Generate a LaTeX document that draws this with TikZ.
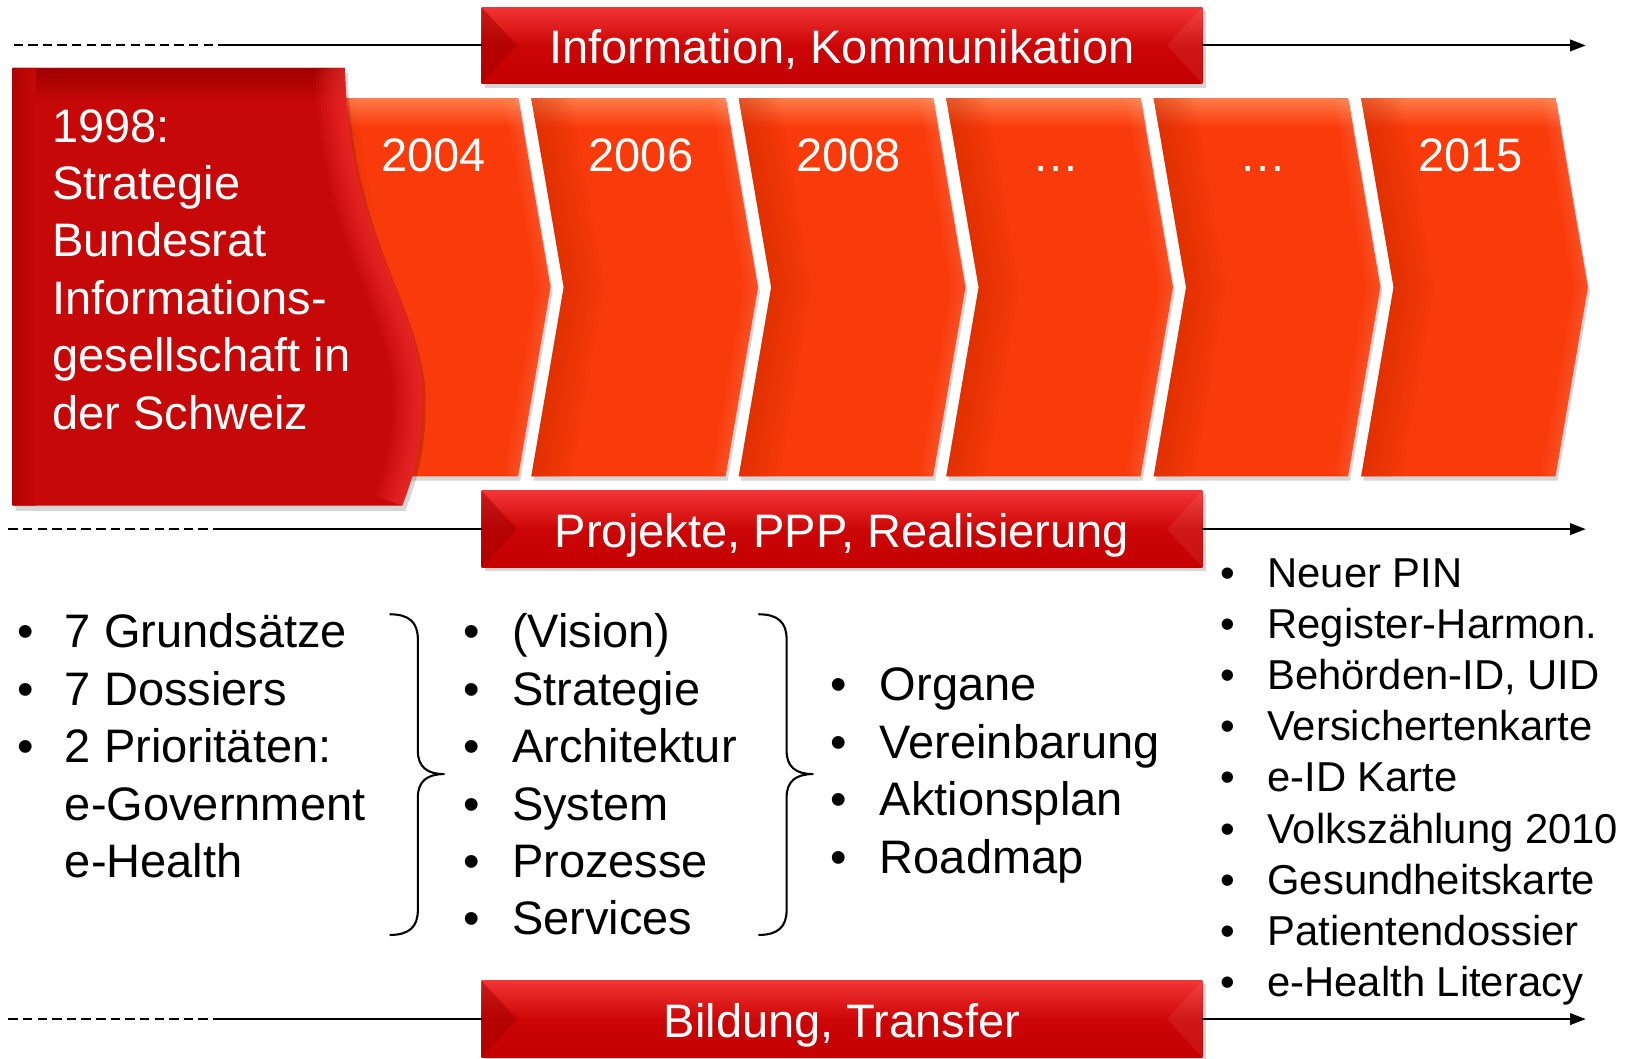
\documentclass[tikz,border=0pt]{standalone}
\usepackage{fontspec}
\setmainfont{Liberation Sans}
\usetikzlibrary{arrows.meta}
\definecolor{banTop}{HTML}{F23434}
\definecolor{banMid}{HTML}{CC0606}
\definecolor{banBot}{HTML}{C40000}
\definecolor{banDark}{HTML}{A00000}
\definecolor{boxRed}{HTML}{C60808}
\definecolor{boxDark}{HTML}{A00000}
\definecolor{boxHi}{HTML}{FF3C3C}
\definecolor{chevFill}{HTML}{F93A0A}
\definecolor{chevTop}{HTML}{FF7A48}
\definecolor{chevDark}{HTML}{C82800}
\newcommand{\fsBig}{\fontsize{45}{55}\selectfont}
\newcommand{\fsSmall}{\fontsize{40}{49}\selectfont}
\newcommand{\boxshape}[1]{#1 (12,65) -- (330,65) .. controls (334,220) and (395,280) .. (404,365) .. controls (407,420) and (396,455) .. (385,484) -- (12,484) -- cycle;}
\newcommand{\boxcurve}[1]{#1 (330,65) .. controls (334,220) and (395,280) .. (404,365) .. controls (407,420) and (396,455) .. (385,484);}
\begin{document}
\begin{tikzpicture}[x=1pt,y=-1pt,line join=round,
  lineS/.style={line width=2pt,black},
  dashS/.style={lineS,dash pattern=on 9pt off 5pt},
  arrS/.style={lineS,-{Triangle[length=15pt,width=11pt]}},
  shadowS/.style={fill=black,opacity=.16},
  banner/.style={rectangle,minimum width=690pt,minimum height=73pt,inner sep=0pt,outer sep=0pt,
     text=white,font=\fsBig,text height=35pt,text depth=0pt,
     top color=banTop,bottom color=banBot,middle color=banMid,
     path picture={
       \fill[banDark,opacity=.5] (path picture bounding box.north west) -- ([xshift=34pt]path picture bounding box.west) -- (path picture bounding box.south west) -- cycle;
       \fill[white,opacity=.07] (path picture bounding box.north east) -- ([xshift=-34pt]path picture bounding box.east) -- (path picture bounding box.south east) -- cycle;
     }},
  yeartext/.style={text=white,font=\fsBig,anchor=base,inner sep=0pt},
  boxtext/.style={text=white,font=\fsBig,anchor=base west,inner sep=0pt},
  bul/.style={font=\fsBig,anchor=base,inner sep=0pt},
  litem/.style={font=\fsBig,anchor=base west,inner sep=0pt},
  sbul/.style={font=\fsSmall,anchor=base,inner sep=0pt},
  sitem/.style={font=\fsSmall,anchor=base west,inner sep=0pt},
  bracestyle/.style={line width=2pt,black}]
\useasboundingbox (0,0) rectangle (1568,1013);

% chevrons
\foreach \i/\yr in {0/2004,1/2006,2/2008,3/…,4/…,5/2015}{
  \pgfmathsetmacro{\xr}{496+198.6*\i}
  \pgfmathsetmacro{\xl}{ifthenelse(\i==0,300,\xr-186)}
  \fill[shadowS] (\xl+2,98) -- (\xr+2,98) -- (\xr+33,279) -- (\xr+2,460) -- (\xl+2,460) -- (\xl+33,279) -- cycle;
  \begin{scope}
    \clip (\xl,94) -- (\xr,94) -- (\xr+31,275) -- (\xr,456) -- (\xl,456) -- (\xl+31,275) -- cycle;
    \fill[chevFill] (\xl-5,90) rectangle (\xr+40,460);
    \shade[top color=chevTop,bottom color=chevFill] (\xl-5,94) rectangle (\xr+40,122);
    \foreach \w in {76,68,...,4}{
      \draw[chevDark,opacity=.05,line width=\w pt] (\xl,94) -- (\xl+31,275) -- (\xl,456);
    }
    \foreach \w in {28,22,...,4}{
      \draw[white,opacity=.025,line width=\w pt] (\xr,94) -- (\xr+31,275) -- (\xr,456);
    }
  \end{scope}
  \node[yeartext] (y\i) at (\xr-81,164) {\yr};
}

% big red box
\boxshape{\fill[shadowS,shift={(3,5)}]}
\begin{scope}
  \boxshape{\clip}
  \fill[boxRed] (0,60) rectangle (420,490);
  \shade[top color=boxDark,bottom color=boxRed] (0,65) rectangle (420,98);
  \shade[left color=boxDark!60!boxRed,right color=boxRed] (12,60) rectangle (34,490);
  \foreach \w in {56,50,...,2}{
    \boxcurve{\draw[boxHi,opacity=.09,line width=\w pt]}
  }
\end{scope}
\foreach \t [count=\k] in {1998:,Strategie,Bundesrat,Informations-,gesellschaft in,der Schweiz}{
  \node[boxtext] (bt\k) at (50,{136+55*(\k-1)}) {\t};
}

% banners
\fill[shadowS] (464,11) rectangle (1154,84);
\fill[shadowS] (464,474) rectangle (1154,547);
\fill[shadowS] (464,942) rectangle (1154,1015);
\node[banner] (info) at (806,43.5) {Information, Kommunikation};
\node[banner] (proj) at (806,506.5) {Projekte, PPP, Realisierung};
\node[banner] (bild) at (806,975.5) {Bildung, Transfer};

% timelines
\coordinate (t0) at (13,43.5); \coordinate (t1) at (213,43.5); \coordinate (t2) at (1518,43.5);
\coordinate (m0) at (8,506.5); \coordinate (m1) at (213,506.5); \coordinate (m2) at (1518,506.5);
\coordinate (b0) at (8,975.5); \coordinate (b1) at (213,975.5); \coordinate (b2) at (1518,975.5);
\draw[dashS] (t0) -- (t1); \draw[lineS] (t1) -- (info.west); \draw[arrS] (info.east) -- (t2);
\draw[dashS] (m0) -- (m1); \draw[lineS] (m1) -- (proj.west); \draw[arrS] (proj.east) -- (m2);
\draw[dashS] (b0) -- (b1); \draw[lineS] (b1) -- (bild.west); \draw[arrS] (bild.east) -- (b2);

% left list
\foreach \t [count=\k] in {7 Grundsätze,7 Dossiers,2 Prioritäten:}{
  \node[bul] (lb\k) at (25,{620+55*(\k-1)}) {•};
  \node[litem] (l\k) at (62,{620+55*(\k-1)}) {\t};
}
\node[litem] (l4) at (62,785) {e-Government};
\node[litem] (l5) at (62,840) {e-Health};

% middle list
\foreach \t [count=\k] in {(Vision),Strategie,Architektur,System,Prozesse,Services}{
  \node[bul] (mb\k) at (452,{620+55*(\k-1)}) {•};
  \node[litem] (mi\k) at (490,{620+55*(\k-1)}) {\t};
}

% third list
\foreach \t [count=\k] in {Organe,Vereinbarung,Aktionsplan,Roadmap}{
  \node[bul] (ob\k) at (803,{671+55*(\k-1)}) {•};
  \node[litem] (oi\k) at (842,{671+55*(\k-1)}) {\t};
}

% right list
\foreach \t [count=\k] in {Neuer PIN,Register-Harmon.,{Behörden-ID, UID},Versichertenkarte,e-ID Karte,Volkszählung 2010,Gesundheitskarte,Patientendossier,e-Health Literacy}{
  \node[sbul] (rb\k) at (1175,{562+49*(\k-1)}) {•};
  \node[sitem] (ri\k) at (1213,{562+49*(\k-1)}) {\t};
}

% braces
\draw[bracestyle] (373,588) .. controls (392,588) and (400,596) .. (400,612) -- (400,719) .. controls (400,734) and (409,741) .. (425,741) .. controls (409,741) and (400,748) .. (400,763) -- (400,871) .. controls (400,887) and (392,895) .. (373,895);
\begin{scope}[shift={(353,0)}]
\draw[bracestyle] (373,588) .. controls (392,588) and (400,596) .. (400,612) -- (400,719) .. controls (400,734) and (409,741) .. (425,741) .. controls (409,741) and (400,748) .. (400,763) -- (400,871) .. controls (400,887) and (392,895) .. (373,895);
\end{scope}
\end{tikzpicture}
\end{document}
